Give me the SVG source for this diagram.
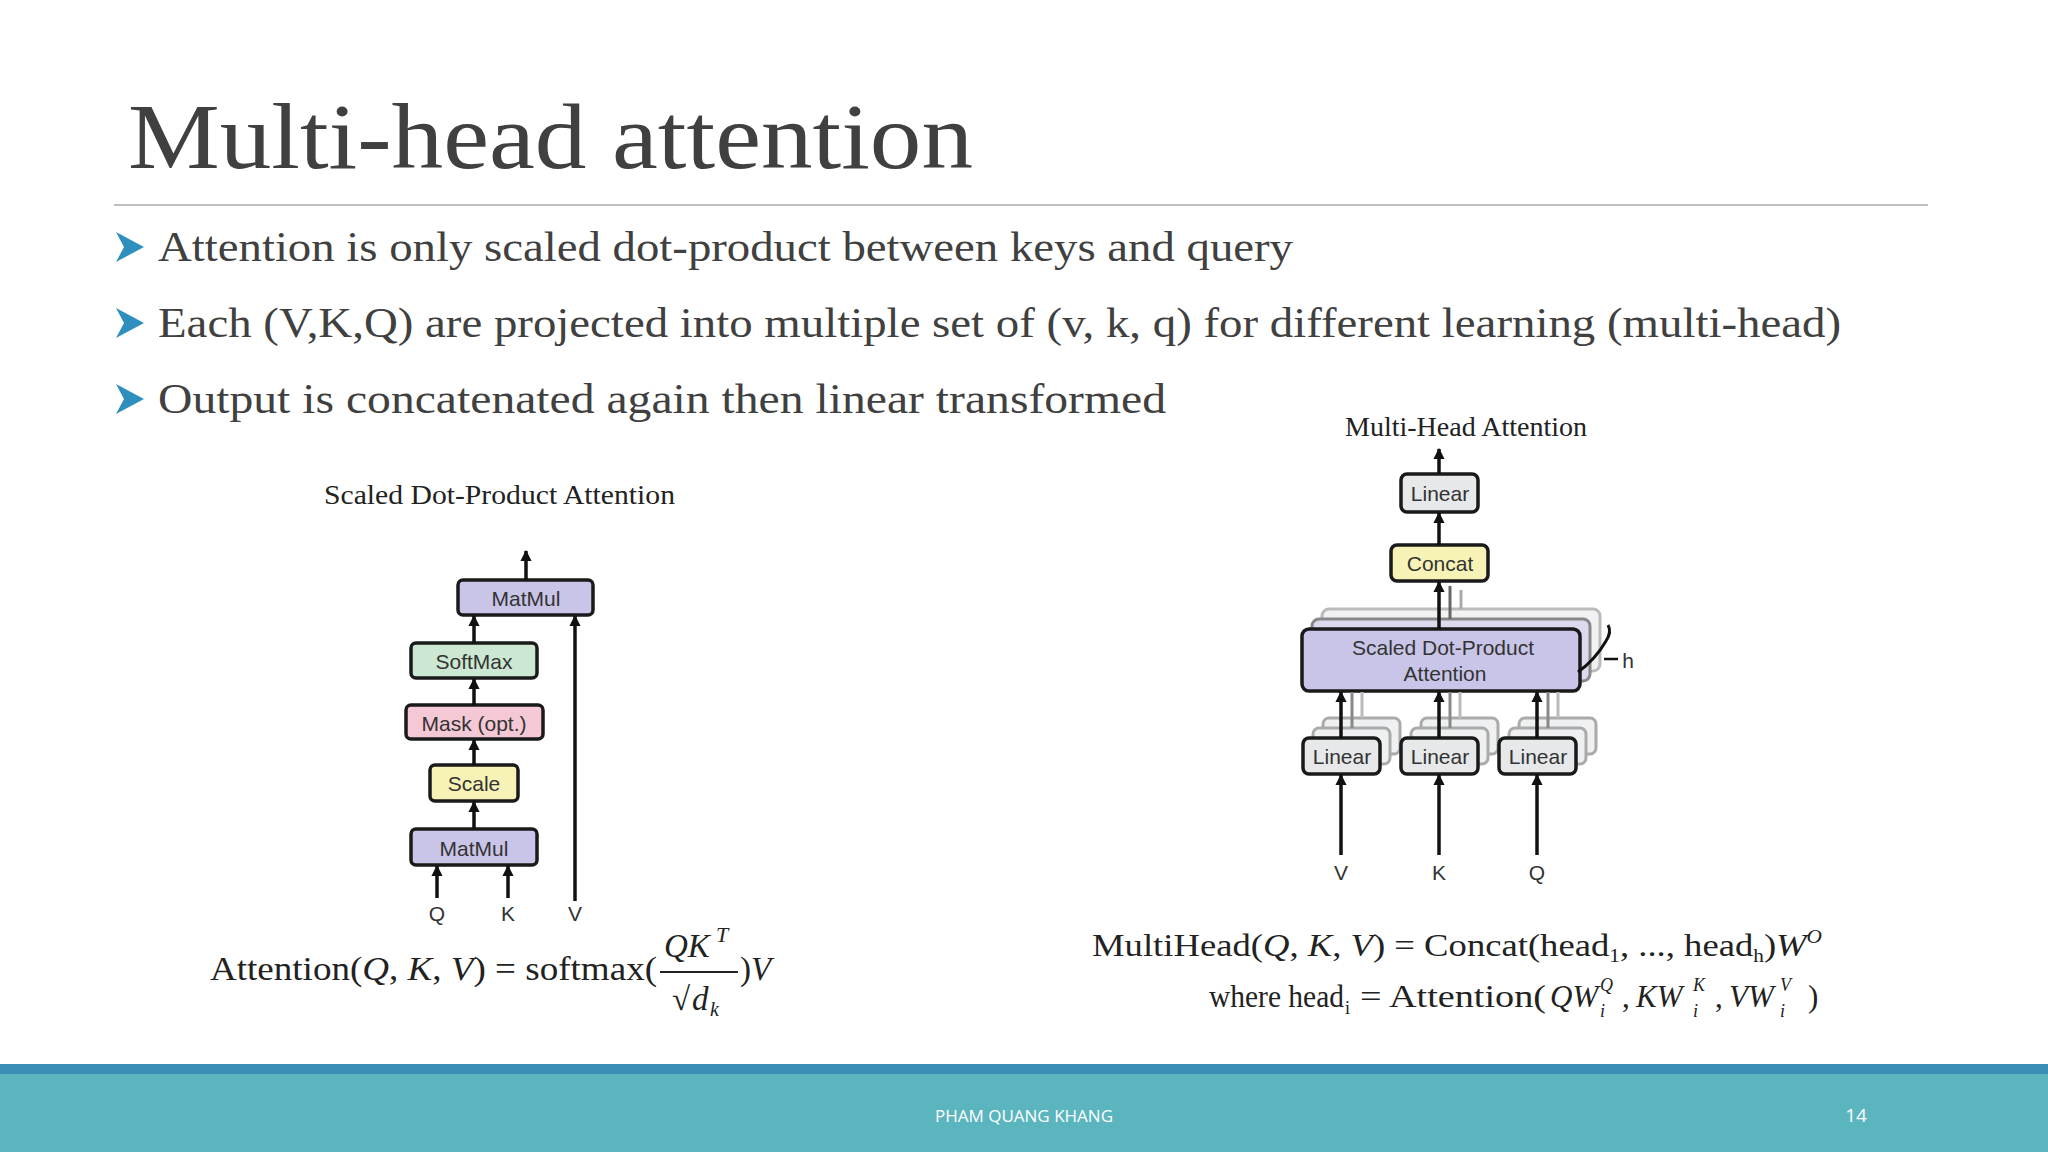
<svg xmlns="http://www.w3.org/2000/svg" width="2048" height="1152" viewBox="0 0 2048 1152">
<defs>
<marker id="ah" viewBox="0 0 10 10" refX="9" refY="5" markerWidth="3.2" markerHeight="3.2" orient="auto"><path d="M0,0 L10,5 L0,10 z" fill="#111"/></marker>
</defs>
<style>
.box{stroke:#1a1a1a;stroke-width:3.5}
.lb{font-family:"Liberation Sans",Arial,sans-serif;font-size:21px;fill:#333;text-anchor:middle}
.ser{font-family:"Liberation Serif","Times New Roman",serif;fill:#222}
.ln{stroke:#111;stroke-width:3.5;fill:none}
.sh{stroke:#aaa;stroke-width:3;fill:#eef0f1}
.bul{font-family:"Liberation Serif",serif;font-size:43px;fill:#404040}
.it{font-style:italic}
.sm{font-size:18px}
</style>
<rect width="2048" height="1152" fill="#fff"/>
<text x="128" y="168" font-family="Liberation Serif,serif" font-size="94" fill="#404040" textLength="845" lengthAdjust="spacingAndGlyphs">Multi-head attention</text>
<line x1="114" y1="205" x2="1928" y2="205" stroke="#aaa" stroke-width="1.5"/>
<g fill="#2e8fbf">
<path d="M116,232 L144,247 L116,262 L124,247 z"/>
<path d="M116,308 L144,323 L116,338 L124,323 z"/>
<path d="M116,384 L144,399 L116,414 L124,399 z"/>
</g>
<text class="bul" x="158" y="261" textLength="1135" lengthAdjust="spacingAndGlyphs">Attention is only scaled dot-product between keys and query</text>
<text class="bul" x="158" y="337" textLength="1683" lengthAdjust="spacingAndGlyphs">Each (V,K,Q) are projected into multiple set of (v, k, q) for different learning (multi-head)</text>
<text class="bul" x="158" y="413" textLength="1008" lengthAdjust="spacingAndGlyphs">Output is concatenated again then linear transformed</text>

<g id="left">
<text class="ser" x="324" y="504" font-size="28" textLength="351" lengthAdjust="spacingAndGlyphs">Scaled Dot-Product Attention</text>
<g id="matmul2"><rect class="box" x="458" y="580" width="135" height="35" rx="5" fill="#c9c5e8"/><text class="lb" x="526" y="606">MatMul</text></g>
<g id="softmax"><rect class="box" x="411" y="643" width="126" height="35" rx="5" fill="#cde8d2"/><text class="lb" x="474" y="669">SoftMax</text></g>
<g id="mask"><rect class="box" x="406" y="705" width="137" height="34" rx="5" fill="#f5c8d6"/><text class="lb" x="474" y="731">Mask (opt.)</text></g>
<g id="scale"><rect class="box" x="430" y="765" width="88" height="36" rx="5" fill="#f7f3b6"/><text class="lb" x="474" y="791">Scale</text></g>
<g id="matmul1"><rect class="box" x="411" y="829" width="126" height="36" rx="5" fill="#c9c5e8"/><text class="lb" x="474" y="856">MatMul</text></g>
<text class="lb" x="437" y="921" font-size="24">Q</text>
<text class="lb" x="508" y="921" font-size="24">K</text>
<text class="lb" x="575" y="921" font-size="24">V</text>
</g>
<g id="connectors-left">
<line class="ln" x1="526" y1="580" x2="526" y2="551" marker-end="url(#ah)"/>
<line class="ln" x1="474" y1="643" x2="474" y2="616" marker-end="url(#ah)"/>
<line class="ln" x1="474" y1="705" x2="474" y2="679" marker-end="url(#ah)"/>
<line class="ln" x1="474" y1="765" x2="474" y2="740" marker-end="url(#ah)"/>
<line class="ln" x1="474" y1="829" x2="474" y2="802" marker-end="url(#ah)"/>
<line class="ln" x1="575" y1="901" x2="575" y2="616" marker-end="url(#ah)"/>
<line class="ln" x1="437" y1="898" x2="437" y2="866" marker-end="url(#ah)"/>
<line class="ln" x1="508" y1="898" x2="508" y2="866" marker-end="url(#ah)"/>
</g>
<g id="formula-left" class="ser" font-size="33">
<text x="210" y="980" textLength="447" lengthAdjust="spacingAndGlyphs">Attention(<tspan class="it">Q</tspan>, <tspan class="it">K</tspan>, <tspan class="it">V</tspan>) = softmax(</text>
<text x="664" y="957" class="it">QK</text><text x="716" y="942" class="it" font-size="22">T</text>
<line x1="660" y1="972" x2="738" y2="972" stroke="#222" stroke-width="2"/>
<text x="672" y="1010">√</text><text x="692" y="1010" class="it">d</text><text x="710" y="1016" class="it" font-size="20">k</text>
<text x="740" y="980">)<tspan class="it">V</tspan></text>
</g>

<g id="right">
<text class="ser" x="1345" y="436" font-size="27" textLength="242" lengthAdjust="spacingAndGlyphs">Multi-Head Attention</text>
<g id="linear-top"><rect class="box" x="1401" y="474" width="77" height="38" rx="6" fill="#e6e8ea"/><text class="lb" x="1440" y="501">Linear</text></g>
<g id="concat"><rect class="box" x="1391" y="545" width="97" height="36" rx="6" fill="#f7f3b6"/><text class="lb" x="1440" y="571">Concat</text></g>
<g id="sdpa">
<rect x="1322" y="609" width="278" height="62" rx="7" fill="#f2f2f4" stroke="#bbb" stroke-width="3"/>
<rect x="1312" y="619" width="278" height="62" rx="7" fill="#ddd9ef" stroke="#888" stroke-width="3"/>
<rect class="box" x="1302" y="629" width="278" height="62" rx="7" fill="#c9c5e8"/>
<text class="lb" x="1443" y="655">Scaled Dot-Product</text>
<text class="lb" x="1445" y="681">Attention</text>
<path d="M1578,672 Q1595,660 1606,641 Q1612,632 1608,625" stroke="#111" stroke-width="3" fill="none"/>
<line x1="1604" y1="659" x2="1618" y2="659" stroke="#111" stroke-width="2.5"/>
<text class="lb" x="1628" y="668" text-anchor="start">h</text>
</g>
<g id="linV"><rect class="sh" x="1323" y="718" width="77" height="36" rx="6"/><rect class="sh" x="1313" y="728" width="77" height="36" rx="6" stroke="#777"/><rect class="box" x="1303" y="738" width="77" height="36" rx="6" fill="#e6e8ea"/><text class="lb" x="1342" y="764">Linear</text></g>
<g id="linK"><rect class="sh" x="1421" y="718" width="77" height="36" rx="6"/><rect class="sh" x="1411" y="728" width="77" height="36" rx="6" stroke="#777"/><rect class="box" x="1401" y="738" width="77" height="36" rx="6" fill="#e6e8ea"/><text class="lb" x="1440" y="764">Linear</text></g>
<g id="linQ"><rect class="sh" x="1519" y="718" width="77" height="36" rx="6"/><rect class="sh" x="1509" y="728" width="77" height="36" rx="6" stroke="#777"/><rect class="box" x="1499" y="738" width="77" height="36" rx="6" fill="#e6e8ea"/><text class="lb" x="1538" y="764">Linear</text></g>
<text class="lb" x="1341" y="880" font-size="24">V</text>
<text class="lb" x="1439" y="880" font-size="24">K</text>
<text class="lb" x="1537" y="880" font-size="24">Q</text>
</g>
<g id="connectors-right">
<line class="ln" x1="1439" y1="474" x2="1439" y2="449" marker-end="url(#ah)"/>
<line class="ln" x1="1439" y1="545" x2="1439" y2="513" marker-end="url(#ah)"/>
<line class="ln" x1="1439" y1="629" x2="1439" y2="582" marker-end="url(#ah)"/>
<line x1="1450" y1="619" x2="1450" y2="586" stroke="#666" stroke-width="3"/>
<line x1="1461" y1="609" x2="1461" y2="590" stroke="#aaa" stroke-width="3"/>
<line class="ln" x1="1341" y1="738" x2="1341" y2="692" marker-end="url(#ah)"/>
<line class="ln" x1="1439" y1="738" x2="1439" y2="692" marker-end="url(#ah)"/>
<line class="ln" x1="1537" y1="738" x2="1537" y2="692" marker-end="url(#ah)"/>
<g stroke="#888" stroke-width="3"><line x1="1352" y1="728" x2="1352" y2="692"/><line x1="1450" y1="728" x2="1450" y2="692"/><line x1="1548" y1="728" x2="1548" y2="692"/></g>
<g stroke="#bbb" stroke-width="3"><line x1="1362" y1="718" x2="1362" y2="692"/><line x1="1460" y1="718" x2="1460" y2="692"/><line x1="1558" y1="718" x2="1558" y2="692"/></g>
<line class="ln" x1="1341" y1="855" x2="1341" y2="775" marker-end="url(#ah)"/>
<line class="ln" x1="1439" y1="855" x2="1439" y2="775" marker-end="url(#ah)"/>
<line class="ln" x1="1537" y1="855" x2="1537" y2="775" marker-end="url(#ah)"/>
</g>
<g id="formula-right" class="ser" font-size="31">
<text x="1092" y="956" textLength="730" lengthAdjust="spacingAndGlyphs">MultiHead(<tspan class="it">Q</tspan>, <tspan class="it">K</tspan>, <tspan class="it">V</tspan>) = Concat(head<tspan class="sm" dy="6">1</tspan><tspan dy="-6">, ..., head</tspan><tspan class="sm" dy="6">h</tspan><tspan dy="-6">)</tspan><tspan class="it">W</tspan><tspan class="sm it" dy="-13">O</tspan></text>
<text x="1209" y="1007" font-size="32" textLength="135" lengthAdjust="spacingAndGlyphs">where head</text>
<text x="1345" y="1014" class="sm">i</text>
<text x="1360" y="1007" textLength="186" lengthAdjust="spacingAndGlyphs">= Attention(</text>
<text x="1550" y="1007" class="it">QW</text><text x="1600" y="991" class="sm it">Q</text><text x="1600" y="1017" class="sm it">i</text>
<text x="1622" y="1007">,</text>
<text x="1636" y="1007" class="it">KW</text><text x="1693" y="991" class="sm it">K</text><text x="1693" y="1017" class="sm it">i</text>
<text x="1715" y="1007">,</text>
<text x="1729" y="1007" class="it">VW</text><text x="1780" y="991" class="sm it">V</text><text x="1780" y="1017" class="sm it">i</text>
<text x="1808" y="1007">)</text>
</g>

<g id="footer">
<rect x="0" y="1064" width="2048" height="88" fill="#5ab5bf"/>
<rect x="0" y="1064" width="2048" height="10" fill="#3a8fb8"/>
<text x="1024" y="1122" font-family="Open Sans,Liberation Sans,sans-serif" font-size="17" fill="#fff" text-anchor="middle">PHAM QUANG KHANG</text>
<text x="1856" y="1122" font-family="Open Sans,Liberation Sans,sans-serif" font-size="19" fill="#fff" text-anchor="middle">14</text>
</g>
</svg>
